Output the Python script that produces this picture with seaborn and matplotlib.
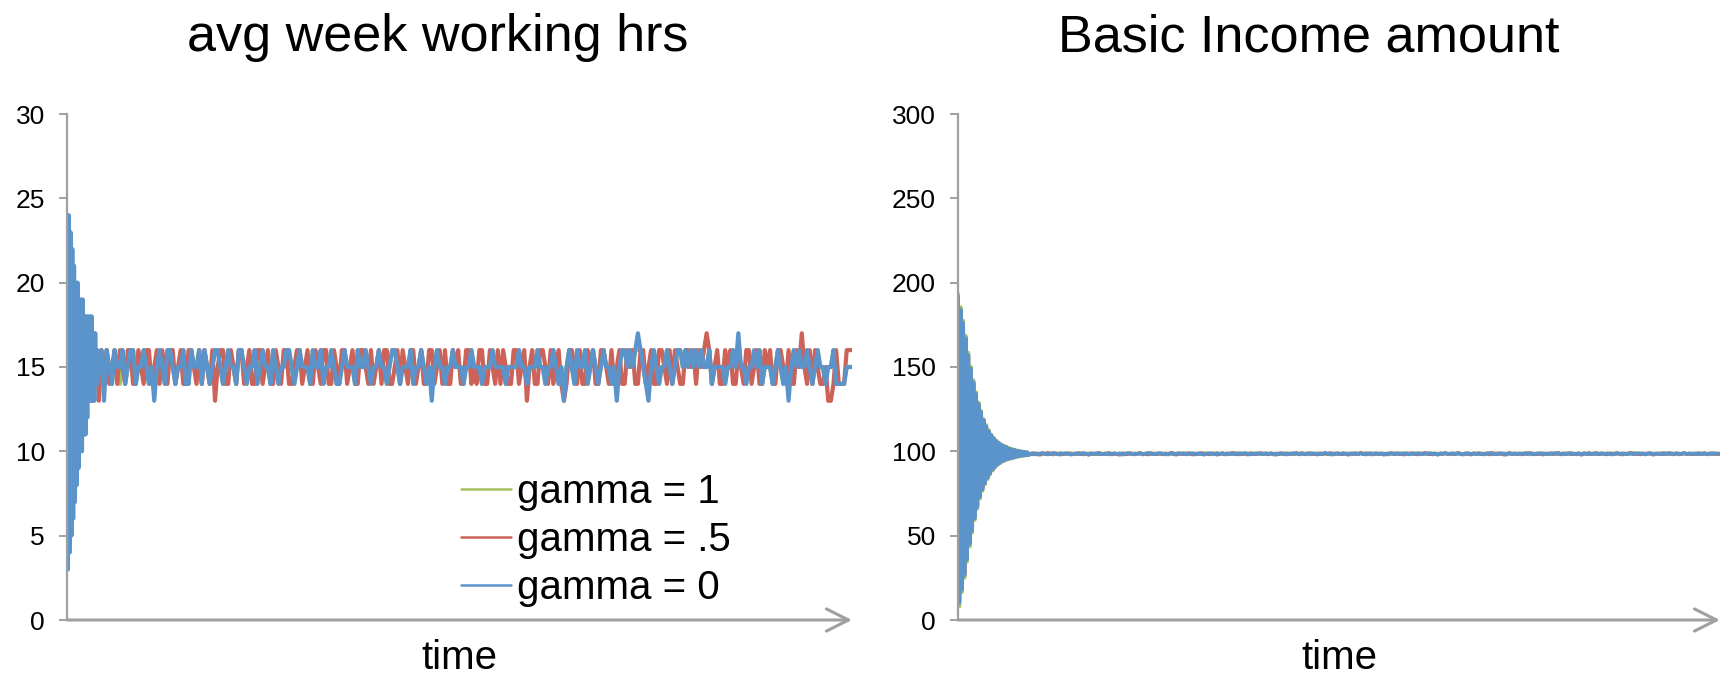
import numpy as np
import matplotlib
matplotlib.use("Agg")
import matplotlib.pyplot as plt
import seaborn as sns

# avg week working hours: every time step during the start, then every 3rd step
hrs_step = 3
hrs_g1_start = [23, 4, 23, 5, 22, 6, 21, 8, 20, 9, 19, 10, 19, 10, 18, 11, 18, 11,
                18, 12, 17, 12, 17, 13, 17, 13, 16, 14, 16, 14, 16, 14, 16, 15, 15, 15]
hrs_g05_start = [24, 4, 23, 5, 22, 6, 21, 7, 20, 8, 19, 9, 19, 10, 19, 11, 18, 12,
                 18, 12, 18, 13, 17, 13, 17, 13, 17, 13, 17, 14, 16, 14, 16, 14, 16, 15]
hrs_g0_start = [24, 3, 24, 4, 23, 5, 22, 6, 21, 7, 20, 8, 20, 9, 19, 10, 19, 10,
                19, 11, 18, 11, 18, 12, 18, 13, 18, 13, 18, 13, 17, 13, 17, 14, 16, 14]

hrs_g1_rest = [15, 16, 14, 16, 15, 14,
               16, 15, 14, 16, 14, 15, 16, 16, 14, 15, 15, 16, 15, 14, 15, 14, 15, 16, 15, 14,
               16, 16, 15, 14, 15, 15, 16, 14, 14, 16, 15, 15, 16, 14, 16, 15, 14, 15, 16, 16,
               15, 14, 15, 16, 15, 15, 14, 16, 16, 15, 14, 15, 15, 16, 14, 15, 16, 15, 15, 14,
               16, 15, 14, 15, 15, 16, 16, 15, 14, 15, 16, 15, 15, 15, 14, 16, 15, 15, 16, 14,
               15, 15, 16, 15, 14, 14, 15, 16, 15, 15, 15, 14, 16, 15, 15, 16, 15, 14, 15, 15,
               16, 15, 15, 14, 15, 16, 16, 15, 14, 15, 15, 15, 16, 14, 15, 15, 16, 15, 14, 15,
               14, 15, 16, 15, 15, 14, 15, 15, 16, 15, 15, 15, 14, 15, 15, 16, 15, 15, 15, 14,
               15, 15, 15, 16, 15, 15, 15, 15, 14, 15, 15, 15, 15, 16, 15, 15, 14, 15, 15, 15,
               16, 15, 15, 14, 15, 15, 16, 15, 14, 15, 14, 15, 16, 15, 14, 16, 15, 15, 16, 14,
               15, 16, 15, 14, 15, 16, 15, 15, 14, 15, 14, 15, 16, 16, 15, 16, 15, 16, 16, 16,
               15, 14, 14, 15, 16, 15, 14, 15, 15, 16, 15, 14, 15, 16, 16, 15, 16, 15, 16, 15,
               16, 15, 16, 15, 15, 16, 14, 15, 15, 15, 15, 14, 15, 15, 16, 15, 16, 15, 15, 14,
               15, 15, 16, 15, 16, 14, 15, 15, 15, 14, 15, 16, 15, 14, 15, 14, 15, 16, 15, 16,
               15, 15, 16, 15, 14, 15, 16, 15, 15, 14, 15, 15, 16, 14, 14, 14, 14, 15, 15, 15]

hrs_g05_rest = [13, 16, 14, 16, 14, 15,
                16, 14, 16, 15, 14, 16, 16, 14, 14, 16, 15, 14, 16, 16, 14, 15, 16, 14, 16, 15,
                14, 16, 16, 14, 15, 16, 14, 14, 16, 16, 15, 14, 16, 14, 16, 15, 14, 16, 13, 15,
                16, 16, 14, 14, 16, 15, 14, 16, 16, 14, 15, 16, 14, 14, 16, 16, 14, 15, 16, 14,
                14, 16, 15, 14, 16, 16, 14, 14, 15, 16, 16, 14, 15, 16, 14, 14, 16, 15, 14, 16,
                16, 14, 14, 16, 15, 14, 16, 16, 14, 15, 16, 14, 14, 16, 16, 15, 14, 16, 14, 15,
                16, 14, 16, 16, 14, 14, 15, 16, 14, 16, 15, 14, 16, 16, 14, 15, 16, 14, 14, 16,
                16, 14, 15, 16, 14, 16, 14, 14, 16, 15, 16, 14, 14, 16, 16, 14, 15, 14, 16, 16,
                14, 14, 16, 15, 14, 16, 14, 16, 15, 14, 14, 16, 16, 14, 15, 16, 13, 15, 16, 14,
                14, 16, 16, 15, 14, 16, 14, 15, 16, 14, 13, 14, 16, 16, 15, 14, 16, 14, 14, 16,
                15, 16, 14, 14, 16, 16, 15, 14, 16, 14, 15, 16, 14, 14, 16, 15, 16, 14, 14, 16,
                16, 14, 15, 16, 14, 14, 16, 16, 15, 14, 16, 14, 16, 15, 14, 14, 16, 16, 15, 16,
                14, 16, 15, 16, 17, 16, 14, 15, 16, 14, 14, 16, 15, 16, 14, 14, 16, 15, 14, 16,
                16, 14, 15, 16, 14, 14, 16, 15, 16, 14, 14, 16, 16, 15, 14, 16, 14, 14, 16, 15,
                17, 15, 14, 16, 14, 16, 15, 14, 14, 15, 13, 13, 14, 16, 14, 14, 14, 16, 16, 16]

hrs_g0_rest = [15, 16, 13, 16, 15, 14,
               16, 15, 15, 16, 14, 15, 16, 16, 14, 15, 15, 16, 15, 14, 15, 13, 15, 16, 15, 14,
               16, 16, 15, 14, 15, 15, 16, 14, 14, 16, 15, 15, 16, 14, 16, 15, 14, 15, 16, 16,
               15, 14, 15, 16, 15, 15, 14, 16, 16, 15, 14, 15, 15, 16, 14, 15, 16, 15, 15, 14,
               16, 15, 14, 15, 15, 16, 16, 15, 14, 15, 16, 15, 15, 15, 14, 16, 15, 15, 16, 14,
               15, 15, 16, 15, 14, 14, 15, 16, 15, 15, 15, 14, 16, 15, 15, 16, 15, 14, 15, 15,
               16, 15, 15, 14, 15, 16, 16, 15, 14, 15, 15, 15, 16, 14, 15, 15, 16, 15, 14, 15,
               13, 15, 16, 15, 15, 14, 15, 15, 16, 15, 15, 15, 14, 15, 15, 16, 15, 15, 15, 14,
               15, 15, 15, 16, 15, 15, 15, 15, 14, 15, 15, 15, 15, 16, 15, 15, 14, 15, 15, 15,
               16, 15, 15, 14, 15, 15, 16, 15, 14, 15, 13, 15, 16, 15, 14, 16, 15, 15, 16, 14,
               15, 16, 15, 14, 15, 16, 15, 15, 14, 15, 13, 15, 16, 16, 15, 16, 15, 16, 17, 16,
               15, 14, 13, 15, 16, 15, 14, 15, 15, 16, 15, 14, 15, 16, 16, 15, 16, 15, 16, 15,
               16, 15, 16, 15, 15, 16, 14, 15, 15, 15, 15, 14, 15, 15, 16, 15, 17, 15, 15, 14,
               15, 15, 16, 15, 16, 14, 15, 15, 15, 14, 15, 16, 15, 14, 15, 13, 15, 16, 15, 16,
               15, 15, 16, 15, 14, 15, 16, 15, 15, 14, 15, 15, 16, 14, 14, 14, 14, 15, 15, 15]

# basic income amount: every time step during the start, then every 2nd step
bi_step = 2
bi_g1_start = [193.5, 8.0, 185.5, 16.5, 177.5, 25.0, 168.5, 34.5, 158.5, 43.5,
               150.2, 51.8, 142.2, 59.3, 135.1, 65.9, 129.0, 72.0, 124.0, 76.5,
               119.2, 80.4, 115.6, 83.5, 112.5, 86.3, 110.0, 88.6, 108.0, 90.4,
               106.4, 91.9, 105.2, 93.0, 104.1, 93.9, 103.3, 94.6, 102.7, 95.2,
               101.9, 95.6, 101.4, 96.0, 101.0, 96.4, 100.6, 96.8, 100.3, 97.1,
               100.0, 97.3, 99.7, 97.5, 99.5, 97.7]
bi_g05_start = [191.0, 11.0, 183.2, 18.8, 175.3, 27.2, 166.4, 36.6, 156.5, 45.5,
                148.5, 53.5, 140.6, 61.0, 133.6, 67.4, 127.7, 73.3, 122.8, 77.8,
                118.1, 81.5, 114.6, 84.5, 111.6, 87.2, 109.2, 89.4, 107.3, 91.1,
                105.8, 92.5, 104.6, 93.6, 103.6, 94.4, 102.8, 95.1, 102.2, 95.7,
                101.4, 96.0, 101.0, 96.4, 100.6, 96.8, 100.2, 97.2, 99.9, 97.5,
                99.6, 97.7, 99.4, 97.9, 99.2, 98.0]
bi_g0_start = [192.0, 10.0, 184.0, 18.0, 176.0, 26.5, 167.0, 36.0, 157.0, 45.0,
               149.0, 53.0, 141.0, 60.5, 134.0, 67.0, 128.0, 73.0, 123.0, 77.5,
               118.3, 81.3, 114.8, 84.3, 111.8, 87.0, 109.4, 89.2, 107.5, 90.9,
               106.0, 92.3, 104.8, 93.4, 103.8, 94.2, 103.0, 94.9, 102.4, 95.5,
               101.6, 95.8, 101.2, 96.2, 100.8, 96.6, 100.4, 97.0, 100.1, 97.3,
               99.8, 97.5, 99.6, 97.7, 99.4, 97.8]

bi_g1_rest = [98.4, 98.9, 98.2, 98.7, 98.5, 99.0, 98.3, 98.6, 98.8, 98.1,
              98.7, 98.5, 99.1, 98.3, 98.6, 98.4, 98.9, 98.2, 98.7, 98.5,
              98.9, 98.1, 98.6, 98.8, 98.4, 98.7, 98.2, 98.9, 98.5, 98.3,
              98.7, 99.0, 98.4, 98.6, 98.2, 98.8, 98.5, 98.1, 98.7, 98.9,
              98.3, 98.6, 98.5, 98.9, 98.2, 98.7, 98.4, 99.1, 98.6, 98.3,
              98.5, 98.8, 98.4, 98.7, 98.1, 98.6, 98.9, 98.3, 98.7, 98.5,
              99.0, 98.4, 98.6, 98.2, 98.8, 98.5, 98.7, 98.3, 98.9, 98.6,
              98.2, 98.7, 98.5, 99.1, 98.4, 98.6, 98.1, 98.8, 98.5, 98.3,
              98.8, 98.5, 98.2, 98.9, 98.6, 98.4, 98.7, 98.3, 99.0, 98.5,
              98.3, 98.7, 98.9, 98.4, 98.6, 98.1, 98.8, 98.5, 98.3, 98.7,
              98.9, 98.4, 98.6, 98.2, 98.7, 98.5, 99.1, 98.3, 98.8, 98.6,
              98.4, 98.8, 98.5, 98.7, 98.2, 98.9, 98.6, 98.4, 98.1, 98.7,
              98.5, 98.3, 98.9, 98.6, 98.4, 98.8, 98.2, 98.7, 98.5, 99.0,
              98.6, 98.9, 98.4, 98.1, 98.7, 98.5, 98.8, 98.3, 98.6, 98.4,
              98.2, 98.7, 98.9, 98.5, 98.3, 98.6, 99.0, 98.4, 98.7, 98.5,
              98.8, 98.3, 98.5, 98.7, 98.4, 98.9, 98.6, 98.1, 98.8, 98.5,
              98.4, 98.6, 99.1, 98.2, 98.7, 98.5, 98.3, 98.9, 98.6, 98.4,
              98.9, 98.5, 98.3, 98.7, 98.6, 98.2, 98.8, 98.4, 98.7, 99.0,
              98.3, 98.7, 98.5, 98.8, 98.4, 98.6, 98.1, 98.9, 98.5, 98.7,
              98.6, 98.2, 98.8, 98.5, 99.1, 98.4, 98.7, 98.3, 98.6, 98.5,
              98.8, 98.4, 98.6, 98.2, 98.9, 98.5, 98.7, 98.4, 98.3, 98.8,
              98.5, 98.9, 98.3, 98.7, 98.6, 98.1, 98.8, 98.5, 99.0, 98.4,
              98.7, 98.3, 98.6, 98.9, 98.4, 98.7, 98.5, 98.2, 98.8, 98.6,
              98.4, 98.8, 98.5, 98.3, 98.7, 99.1, 98.6, 98.4, 98.9, 98.5,
              98.2, 98.6, 98.8, 98.5, 98.3, 98.7, 98.4, 98.9, 98.6, 98.5,
              98.9, 98.4, 98.7, 98.2, 98.6, 98.8, 98.5, 98.3, 98.7, 98.4,
              98.6, 98.9, 98.3, 98.7, 98.5, 98.8, 98.4, 98.6, 98.5, 98.7]

bi_g05_rest = [98.6, 98.2, 98.9, 98.4, 98.0, 98.7, 98.5, 99.1, 98.3, 98.6,
               98.8, 98.4, 98.1, 98.7, 98.5, 98.9, 98.2, 98.6, 98.4, 99.0,
               98.3, 98.7, 98.5, 98.0, 98.8, 98.4, 98.6, 99.1, 98.3, 98.7,
               98.5, 98.9, 98.2, 98.6, 98.4, 98.0, 98.8, 98.5, 98.3, 98.9,
               98.6, 98.2, 98.7, 99.0, 98.4, 98.5, 98.1, 98.8, 98.6, 98.3,
               98.9, 98.5, 98.2, 98.7, 98.4, 99.1, 98.6, 98.0, 98.5, 98.8,
               98.3, 98.7, 98.9, 98.4, 98.1, 98.6, 98.5, 99.0, 98.2, 98.7,
               98.4, 98.8, 98.6, 98.0, 98.5, 98.9, 98.3, 98.7, 98.5, 99.1,
               98.6, 98.2, 98.8, 98.4, 98.6, 98.1, 98.9, 98.5, 98.3, 98.7,
               99.0, 98.4, 98.6, 98.2, 98.8, 98.5, 98.0, 98.7, 98.9, 98.4,
               98.6, 98.3, 98.8, 98.5, 99.1, 98.2, 98.7, 98.4, 98.6, 98.9,
               98.3, 98.6, 98.1, 98.8, 98.5, 98.7, 98.4, 99.0, 98.2, 98.6,
               98.9, 98.5, 98.3, 98.7, 98.0, 98.6, 98.8, 98.4, 98.5, 99.1,
               98.3, 98.7, 98.5, 98.9, 98.2, 98.6, 98.4, 98.8, 98.0, 98.7,
               98.5, 99.0, 98.3, 98.6, 98.8, 98.4, 98.1, 98.7, 98.5, 98.9,
               98.6, 98.2, 98.8, 98.4, 99.1, 98.5, 98.3, 98.7, 98.6, 98.0,
               98.8, 98.5, 98.9, 98.3, 98.6, 98.4, 98.7, 99.0, 98.2, 98.5,
               98.7, 98.4, 98.1, 98.8, 98.6, 98.9, 98.3, 98.5, 98.7, 98.2,
               99.1, 98.6, 98.4, 98.8, 98.5, 98.0, 98.7, 98.9, 98.3, 98.6,
               98.5, 98.8, 98.2, 98.7, 98.4, 99.0, 98.6, 98.3, 98.5, 98.9,
               98.1, 98.7, 98.5, 98.8, 98.4, 98.6, 99.1, 98.2, 98.7, 98.5,
               98.9, 98.3, 98.6, 98.4, 98.8, 98.0, 98.7, 98.5, 98.9, 98.4,
               98.6, 99.0, 98.3, 98.7, 98.5, 98.2, 98.8, 98.6, 98.4, 98.9,
               98.5, 98.1, 98.7, 98.6, 99.1, 98.3, 98.8, 98.5, 98.2, 98.7,
               98.4, 98.9, 98.6, 98.0, 98.7, 98.5, 98.8, 98.3, 98.6, 99.0,
               98.5, 98.2, 98.8, 98.6, 98.4, 98.9, 98.5, 98.7, 98.3, 98.6,
               98.8, 98.4, 98.6, 98.9, 98.2, 98.7, 98.5, 98.8, 98.4, 98.6]

bi_g0_rest = [98.3, 98.8, 98.5, 98.1, 98.7, 98.9, 98.4, 98.2, 98.6, 99.0,
              98.5, 98.2, 98.7, 98.4, 98.9, 98.6, 98.1, 98.5, 98.8, 98.3,
              98.6, 99.0, 98.4, 98.2, 98.7, 98.5, 98.9, 98.3, 98.6, 98.4,
              98.8, 98.2, 98.5, 98.9, 98.4, 98.7, 98.1, 98.6, 98.9, 98.5,
              98.3, 98.7, 98.4, 98.8, 98.2, 98.6, 99.1, 98.5, 98.3, 98.7,
              98.4, 98.9, 98.6, 98.2, 98.5, 98.8, 98.3, 98.6, 98.9, 98.4,
              98.7, 98.2, 98.5, 98.9, 98.6, 98.3, 98.8, 98.4, 98.1, 98.6,
              98.9, 98.5, 98.3, 98.7, 98.4, 98.8, 98.6, 98.2, 98.7, 98.5,
              98.3, 98.9, 98.6, 98.4, 99.0, 98.5, 98.2, 98.7, 98.4, 98.8,
              98.6, 98.3, 98.7, 98.5, 98.9, 98.2, 98.6, 98.4, 98.8, 98.5,
              98.1, 98.7, 98.4, 98.9, 98.6, 98.3, 98.8, 98.5, 98.2, 98.6,
              98.9, 98.4, 98.7, 98.3, 98.5, 99.1, 98.6, 98.2, 98.8, 98.4,
              98.6, 98.3, 98.9, 98.5, 98.7, 98.2, 98.6, 98.9, 98.4, 98.7,
              98.5, 98.1, 98.8, 98.4, 98.6, 98.9, 98.3, 98.7, 98.5, 98.2,
              98.8, 98.6, 98.4, 98.9, 98.3, 98.7, 98.5, 98.8, 98.2, 98.6,
              98.4, 98.9, 98.6, 98.3, 98.7, 98.5, 99.0, 98.4, 98.6, 98.2,
              98.7, 98.5, 98.9, 98.3, 98.6, 98.8, 98.4, 98.7, 98.5, 98.1,
              98.6, 98.9, 98.4, 98.7, 98.3, 98.8, 98.5, 98.2, 98.6, 98.9,
              98.5, 98.3, 98.7, 98.4, 98.8, 98.6, 98.2, 98.9, 98.5, 98.7,
              98.3, 98.6, 98.4, 98.9, 98.5, 98.7, 98.2, 98.6, 98.8, 98.4,
              98.7, 98.5, 98.3, 98.8, 98.6, 99.0, 98.4, 98.5, 98.7, 98.3,
              98.6, 98.9, 98.5, 98.2, 98.7, 98.4, 98.8, 98.6, 98.3, 98.5,
              98.9, 98.4, 98.6, 98.7, 98.3, 98.8, 98.5, 98.2, 98.6, 98.9,
              98.4, 98.7, 98.5, 98.3, 98.8, 98.6, 98.4, 98.9, 98.5, 98.7,
              98.2, 98.6, 98.8, 98.4, 98.7, 98.5, 98.3, 98.9, 98.6, 98.4,
              98.7, 98.5, 98.8, 98.3, 98.6, 98.9, 98.4, 98.7, 98.5, 98.6,
              98.3, 98.8, 98.5, 98.7, 98.4, 98.6, 98.9, 98.5, 98.7, 98.5]

labels = ['gamma = 1', 'gamma = .5', 'gamma = 0']
colors = ['#A3C35E', '#CC6258', '#5B93CB']
hrs_ticks = [0, 5, 10, 15, 20, 25, 30]
bi_ticks = [0, 50, 100, 150, 200, 250, 300]


def time_steps(start, rest, step):
    # time index of each stored value
    return np.concatenate([np.arange(len(start)),
                           len(start) + step * np.arange(len(rest))])


sns.set_style('white')
plt.rcParams['font.family'] = ['Liberation Sans', 'DejaVu Sans']
plt.rcParams['text.color'] = 'black'

grey = '#A0A0A0'
fig = plt.figure(figsize=(17.22, 6.78), dpi=100)
ax1 = fig.add_axes([67 / 1722, 58 / 678, 785 / 1722, 506 / 678])
ax2 = fig.add_axes([958 / 1722, 58 / 678, 762 / 1722, 506 / 678])

hrs = [(hrs_g1_start, hrs_g1_rest), (hrs_g05_start, hrs_g05_rest),
       (hrs_g0_start, hrs_g0_rest)]
bis = [(bi_g1_start, bi_g1_rest), (bi_g05_start, bi_g05_rest),
       (bi_g0_start, bi_g0_rest)]

t_max1 = 0
for (start, rest), lab, col in zip(hrs, labels, colors):
    t = time_steps(start, rest, hrs_step)
    t_max1 = max(t_max1, t[-1])
    sns.lineplot(x=t, y=start + rest, ax=ax1, color=col, lw=3.0, label=lab)
t_max2 = 0
for (start, rest), col in zip(bis, colors):
    t = time_steps(start, rest, bi_step)
    t_max2 = max(t_max2, t[-1])
    sns.lineplot(x=t, y=start + rest, ax=ax2, color=col, lw=2.7)


def style_axis(ax, ticks, tmax):
    ax.set_xlim(0, tmax)
    ax.set_ylim(ticks[0], ticks[-1])
    ax.set_yticks(ticks)
    ax.set_xticks([])
    ax.set_xlabel('')
    ax.set_ylabel('')
    for s in ['top', 'right', 'bottom']:
        ax.spines[s].set_visible(False)
    ax.spines['left'].set_color(grey)
    ax.spines['left'].set_linewidth(1.6)
    ax.tick_params(axis='y', which='both', left=True, length=6, width=1.4,
                   color=grey, labelsize=19, pad=10, labelcolor='black')
    ax.annotate('', xy=(1.0, 0), xycoords='axes fraction', xytext=(0, 0),
                textcoords='axes fraction', annotation_clip=False,
                arrowprops=dict(arrowstyle='->,head_length=0.8,head_width=0.4',
                                color=grey, lw=2.2, shrinkA=0, shrinkB=0,
                                mutation_scale=20))
    ax.patch.set_alpha(0)


style_axis(ax1, hrs_ticks, t_max1)
style_axis(ax2, bi_ticks, t_max2)

handles, labs = ax1.get_legend_handles_labels()
leg = ax1.legend(handles, labs, loc='center left',
                 bbox_to_anchor=(461 / 1722, 138 / 678), bbox_transform=fig.transFigure,
                 frameon=False, fontsize=29, handlelength=1.25, handletextpad=0.15,
                 labelspacing=0.24, borderpad=0, borderaxespad=0)
for line in leg.get_lines():
    line.set_linewidth(1.8)

fig.text(438 / 1722, 627 / 678, 'avg week working hrs', fontsize=37.5,
         ha='center', va='baseline')
fig.text(1309 / 1722, 627 / 678, 'Basic Income amount', fontsize=37.5,
         ha='center', va='baseline')
fig.text(459 / 1722, 9 / 678, 'time', fontsize=29, ha='center', va='baseline')
fig.text(1339 / 1722, 9 / 678, 'time', fontsize=29, ha='center', va='baseline')

fig.savefig('out.png', dpi=100)
